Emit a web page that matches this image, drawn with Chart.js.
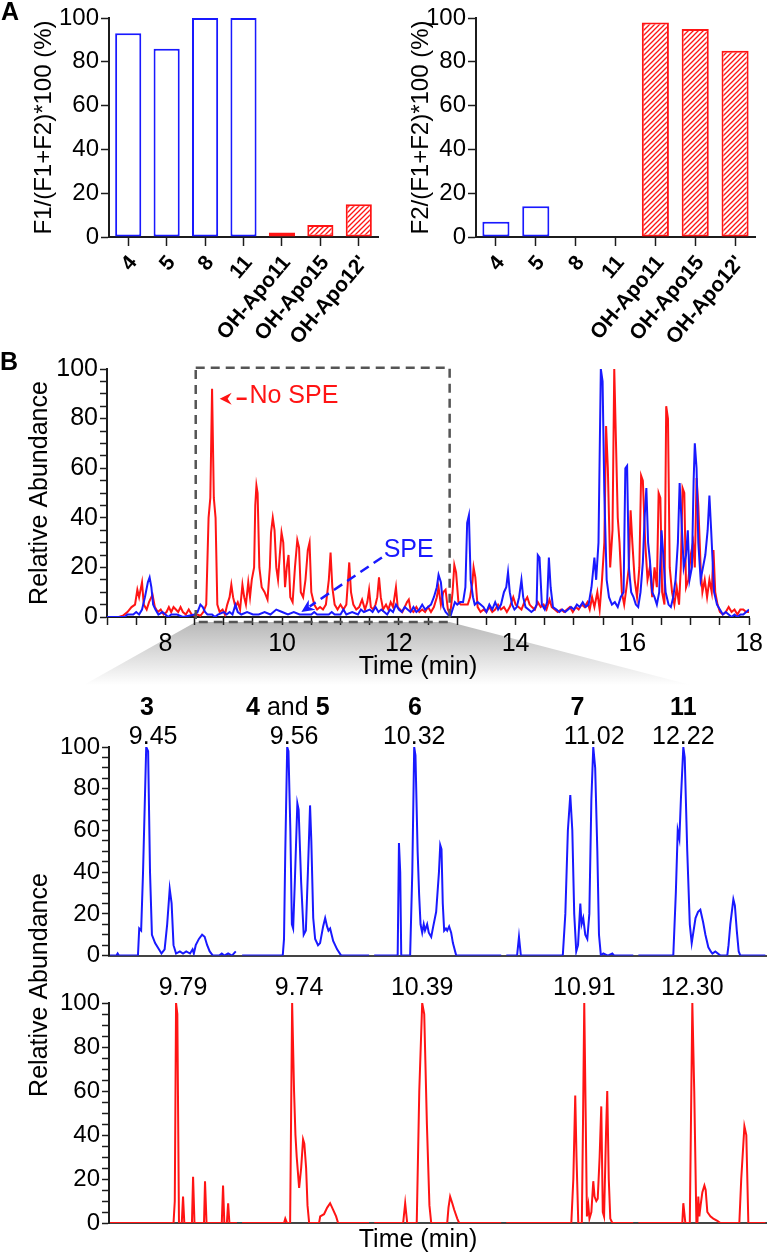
<!DOCTYPE html>
<html>
<head>
<meta charset="utf-8">
<script src="https://cdn.jsdelivr.net/npm/chart.js@4.4.1/dist/chart.umd.min.js"></script>
<style>
  html, body { margin: 0; padding: 0; background: #fff; }
  body { width: 767px; height: 1255px; position: relative; overflow: hidden; }
  canvas { position: absolute; }
</style>
</head>
<body>
<canvas id="shareF1" width="384" height="348" style="left:0;top:0"></canvas>
<canvas id="shareF2" width="383" height="348" style="left:384px;top:0"></canvas>
<canvas id="overview" width="767" height="350" style="left:0;top:340px"></canvas>
<canvas id="speZoom" width="767" height="282" style="left:0;top:690px"></canvas>
<canvas id="noSpeZoom" width="767" height="395" style="left:0;top:860px"></canvas>
<script>
// ---- panel A: fraction distribution ----
const compounds = ['4', '5', '8', '11', 'OH-Apo11', 'OH-Apo15', "OH-Apo12'"];
const f1Share = [93, 86, 100, 100, 2, 5.5, 15];
const f2Share = [7, 14, 0, 0, 98, 95, 85];

// ---- panel B: full chromatogram, [time (min), relative abundance] ----
const speTrace = [
  [7.0,0],[7.3,0],[7.35,1],[7.45,1],[7.5,2],[7.55,1],[7.6,3],[7.65,8],[7.7,14],[7.73,16],[7.76,12],[7.79,5],
  [7.83,3],[7.88,1],[7.95,2],[8.0,1],[8.05,0],[8.1,1],[8.2,1],[8.3,0],[8.4,0.5],[8.5,1],[8.55,2],[8.6,5],
  [8.64,4],[8.68,2],[8.72,1],[8.8,1],[8.85,0],[8.9,1],[9.0,2],[9.05,1],[9.1,2],[9.15,1],[9.2,5],[9.24,2],
  [9.3,1],[9.4,2],[9.5,1],[9.6,1],[9.7,2],[9.8,1],[9.9,3],[10.0,2],[10.1,1],[10.2,2],[10.3,1],[10.4,1],
  [10.5,1],[10.55,2],[10.6,1],[10.8,1],[10.85,2],[10.9,1],[11.0,1],[11.05,3],[11.1,1],[11.2,2],[11.3,1],
  [11.35,3],[11.4,2],[11.5,3],[11.55,2],[11.6,4],[11.65,2],[11.7,3],[11.75,2],[11.8,1],[11.85,3],[11.9,2],
  [11.95,5],[12.0,3],[12.05,2],[12.1,4],[12.15,3],[12.2,2],[12.25,4],[12.3,2],[12.35,3],[12.4,5],[12.45,3],
  [12.5,4],[12.55,5],[12.6,8],[12.65,12],[12.68,17],[12.72,14],[12.76,4],[12.8,2],[12.84,1],[12.88,0],
  [12.92,3],[12.96,6],[13.0,5],[13.05,6],[13.1,6],[13.14,12],[13.17,38],[13.2,41],[13.23,15],[13.27,8],
  [13.3,5],[13.35,6],[13.4,5],[13.45,4],[13.5,2],[13.55,5],[13.6,3],[13.65,6],[13.7,3],[13.75,5],[13.8,10],
  [13.84,12],[13.87,18],[13.9,10],[13.94,5],[13.98,3],[14.02,4],[14.06,8],[14.1,15],[14.13,8],[14.17,4],
  [14.22,3],[14.27,2],[14.32,3],[14.36,5],[14.38,25],[14.41,24],[14.45,5],[14.5,3],[14.54,6],[14.57,24],
  [14.6,12],[14.64,4],[14.7,3],[14.75,2],[14.8,3],[14.85,2],[14.9,3],[14.95,4],[15.0,3],[15.05,5],[15.1,4],
  [15.15,6],[15.2,4],[15.25,5],[15.3,12],[15.35,24],[15.38,15],[15.42,30],[15.46,100],[15.49,95],[15.52,50],
  [15.56,15],[15.6,8],[15.65,5],[15.7,6],[15.75,4],[15.8,8],[15.85,10],[15.88,60],[15.91,61],[15.94,20],
  [15.98,10],[16.02,8],[16.06,5],[16.1,4],[16.14,10],[16.18,22],[16.21,40],[16.24,52],[16.27,30],[16.3,23],
  [16.34,10],[16.38,8],[16.42,5],[16.46,10],[16.5,35],[16.53,25],[16.57,10],[16.62,5],[16.66,4],[16.7,8],
  [16.74,15],[16.78,30],[16.81,54],[16.84,40],[16.88,20],[16.92,25],[16.95,35],[16.98,15],[17.02,20],
  [17.05,55],[17.07,70],[17.1,60],[17.13,30],[17.17,15],[17.21,20],[17.25,25],[17.29,35],[17.32,49],
  [17.35,35],[17.4,10],[17.45,5],[17.5,3],[17.55,1],[17.6,2],[17.65,1],[17.7,0],[17.75,1],[17.8,0],
  [17.85,1],[17.9,1],[17.95,2],[18.0,3]
];
const noSpeTrace = [
  [7.0,0],[7.2,0],[7.27,0.5],[7.35,2],[7.42,4],[7.48,5],[7.52,11],[7.55,8],[7.6,14],[7.63,5],[7.68,3],
  [7.72,6],[7.78,9],[7.82,4],[7.87,2],[7.92,3],[7.97,1],[8.02,2],[8.06,4],[8.1,2],[8.14,4],[8.18,3],[8.22,2],
  [8.26,4],[8.3,2],[8.35,1],[8.4,3],[8.45,1],[8.5,0.5],[8.55,1],[8.6,0.5],[8.65,2],[8.7,5],[8.74,40],
  [8.77,48],[8.8,92],[8.83,48],[8.86,40],[8.89,5],[8.93,2],[8.98,3],[9.02,1],[9.06,5],[9.1,8],[9.13,13],
  [9.16,8],[9.2,4],[9.24,6],[9.28,3],[9.32,13],[9.35,8],[9.38,5],[9.42,14],[9.45,8],[9.48,15],[9.52,20],
  [9.54,45],[9.56,53],[9.58,50],[9.61,20],[9.65,12],[9.7,10],[9.75,7],[9.79,20],[9.81,34],[9.84,40],
  [9.87,35],[9.9,20],[9.93,15],[9.96,25],[9.99,34],[10.02,30],[10.05,12],[10.08,20],[10.11,25],[10.14,8],
  [10.18,6],[10.22,20],[10.26,31],[10.29,28],[10.32,10],[10.36,8],[10.4,15],[10.44,27],[10.47,30],[10.5,10],
  [10.55,5],[10.6,3],[10.65,4],[10.7,3],[10.75,5],[10.8,15],[10.83,26],[10.86,12],[10.9,5],[10.95,3],
  [11.0,5],[11.05,3],[11.1,5],[11.15,22],[11.18,10],[11.22,5],[11.27,3],[11.32,4],[11.37,7],[11.42,3],
  [11.46,6],[11.49,11],[11.52,4],[11.56,3],[11.6,5],[11.63,8],[11.66,16],[11.69,8],[11.73,3],[11.78,5],
  [11.82,3],[11.86,6],[11.9,4],[11.95,12],[11.98,4],[12.02,3],[12.06,2],[12.1,4],[12.14,6],[12.17,7],
  [12.2,3],[12.25,2],[12.3,4],[12.35,2],[12.4,3],[12.45,2],[12.5,4],[12.55,2],[12.6,4],[12.65,8],[12.68,12],
  [12.72,5],[12.76,10],[12.8,11],[12.84,3],[12.88,1],[12.92,10],[12.95,21],[12.98,18],[13.02,6],[13.06,5],
  [13.1,5],[13.14,5],[13.18,5],[13.22,8],[13.26,14],[13.28,20],[13.31,16],[13.35,4],[13.4,2],[13.45,3],
  [13.5,2],[13.55,4],[13.6,2],[13.65,3],[13.7,5],[13.75,3],[13.8,4],[13.85,2],[13.9,4],[13.96,8],[14.0,5],
  [14.05,4],[14.1,3],[14.15,6],[14.2,8],[14.24,5],[14.28,4],[14.33,3],[14.38,6],[14.43,4],[14.48,5],
  [14.53,3],[14.58,7],[14.62,4],[14.67,3],[14.72,2],[14.78,3],[14.83,2],[14.88,3],[14.93,4],[14.98,2],
  [15.03,4],[15.08,3],[15.13,5],[15.18,4],[15.23,6],[15.27,3],[15.31,8],[15.35,4],[15.4,10],[15.44,3],
  [15.48,15],[15.52,30],[15.55,77],[15.58,60],[15.62,20],[15.66,35],[15.69,100],[15.72,70],[15.75,40],
  [15.78,30],[15.82,10],[15.86,5],[15.9,12],[15.94,20],[15.97,43],[16.0,30],[16.04,15],[16.08,8],[16.12,20],
  [16.15,57],[16.18,55],[16.22,30],[16.26,15],[16.3,20],[16.34,8],[16.38,20],[16.42,12],[16.45,50],
  [16.48,48],[16.51,10],[16.55,5],[16.58,85],[16.61,80],[16.64,20],[16.68,10],[16.72,5],[16.76,12],[16.8,5],
  [16.83,20],[16.86,52],[16.89,50],[16.92,12],[16.96,15],[17.0,25],[17.04,30],[17.07,20],[17.1,56],
  [17.13,45],[17.17,20],[17.2,10],[17.24,15],[17.28,8],[17.32,15],[17.36,10],[17.39,27],[17.42,10],
  [17.46,5],[17.5,2],[17.55,1],[17.6,2],[17.65,4],[17.7,2],[17.75,3],[17.8,1],[17.85,3],[17.9,3],[17.95,2],
  [18.0,2]
];

// ---- panel B: extracted ion windows, [position in window (0-100), relative abundance] ----
const speWindows = [
  [[0,0],[5,0],[6,1],[7,0],[22,0],[23,13],[24.5,12],[26,40],[28.5,100],[30,98],[31.5,40],[33,10],[35.5,6],
   [38.5,3],[40.5,1],[43,3],[45,15],[47,32],[48.5,25],[50,5],[52,1],[55,2],[57.5,1],[60,2],[63,1],[65,3],
   [66,1],[67.5,5],[70,8],[72.5,10],[74.5,9],[76.5,5],[78.5,2],[81,0],[86,0],[88,1],[90,0],[93,1],[96,0],[99,2]],
  [[0,0],[32,0],[33,8],[34,50],[35.5,100],[36.5,98],[38,60],[39.2,15],[40.2,13],[41.5,35],[43.5,73],
   [44.5,70],[46.5,35],[48.5,10],[50.2,12],[51.8,40],[53.5,72],[54.5,55],[56,18],[57.5,8],[59.8,5],
   [61.4,6],[63.8,14],[65.4,18],[66.9,14],[68,12],[69.3,13],[71.7,7],[74.8,3],[78,0],[100,0]],
  [[0,0],[18.5,0],[19.5,54],[20.5,40],[21.3,0],[28.3,0],[30,40],[31.5,100],[32.5,96],[34.2,50],[35.4,29],
   [36.5,15],[37.8,11],[39,15],[40,12],[41.7,15],[43,11],[44.9,9],[46.5,14],[48.8,21],[51,40],[52,53],
   [53,51],[54,25],[55.1,12],[56.5,13],[57.5,12],[59,14],[60.6,11],[62,6],[64.6,0],[100,0]],
  [[0,0],[8.5,0],[10,9],[11.5,0],[44.5,0],[46.5,20],[48.5,60],[50.4,77],[52,60],[53.5,20],[55.1,2],
   [56.5,5],[58.3,25],[59.3,15],[60.6,18],[62.2,10],[63.8,8],[65.4,20],[67,75],[68.5,100],[70,90],
   [71.7,50],[73,10],[74.5,0],[76.4,1],[80,0],[83.5,1],[85,0],[100,0]],
  [[0,0],[27.5,0],[29.5,30],[31,60],[32.3,56],[33.5,75],[35.4,100],[36.5,95],[38.5,50],[40.5,15],[42,6],
   [43.5,12],[45,18],[47,21],[48.8,22],[51,16],[52.8,10],[55.1,4],[57,2],[58.3,1],[60.6,2],[64.6,0],
   [70,0],[71,5],[72.4,15],[74.8,27],[76,24],[77.5,12],[79,2],[80.3,0],[100,0]]
];
const noSpeWindows = [
  [[0,0],[50,0],[51,10],[52,100],[53,95],[54.3,0],[56.5,0],[57.5,12],[58.5,0],[64.5,0],[65.4,21],[66.5,0],
   [74,0],[74.8,19],[76,0],[88,0],[89,17],[90,0],[92,0],[93,9],[94,0],[100,0]],
  [[0,0],[33,0],[34,2],[35.4,0],[37.8,0],[39.4,100],[40.9,60],[42,40],[43,30],[44.9,16],[46.5,25],[48,38],
   [49,36],[50.4,25],[51.5,8],[52.8,0],[60.6,0],[61.5,3],[64.5,4],[67,7],[69.3,9],[71.7,6],[74,3],[75.6,0],[100,0]],
  [[0,0],[22.8,0],[24.4,9],[26,0],[33.5,0],[35.5,60],[37.8,100],[39.4,95],[41.5,45],[43.5,8],[44.9,0],
   [57.5,0],[58.5,7],[59.8,12],[61.5,9],[63,6],[65.4,2],[66.9,0],[100,0]],
  [[0,0],[51.2,0],[52.8,20],[54.3,58],[55.3,30],[56.7,0],[59.5,0],[60.5,50],[61.4,100],[62.5,50],[63.5,3],
   [64.6,8],[65.5,2],[67,5],[68.5,19],[69.5,12],[70.9,10],[72,11],[73.5,30],[74.8,53],[76,5],[77,3],
   [78.5,40],[79.5,60],[80.7,20],[81.9,2],[83.5,0],[100,0]],
  [[0,0],[34.6,0],[35.4,9],[37,0],[40.5,0],[42.5,100],[44,60],[45.7,0],[46.5,0],[47.2,12],[48,3],[49,8],
   [50.4,14],[52,17],[53,15],[54.3,5],[56.7,3],[59,2],[62.2,1],[64.6,0],[79.5,0],[81,20],[83.5,44],[85,40],
   [86.6,0],[100,0]]
];
const speRt = ['9.45', '9.56', '10.32', '11.02', '12.22'];
const noSpeRt = ['9.79', '9.74', '10.39', '10.91', '12.30'];
const windowCompounds = [['3'], ['4', ' and ', '5'], ['6'], ['7'], ['11']];
const compoundAt = [29, 36, 32, 56, 35.4];

const FONT = '"Liberation Sans", Arial, sans-serif';
const BLUE = 'rgb(25,25,255)';
const RED = 'rgb(255,20,20)';
const INK = '#1c1c1c';
const WINDOW_PITCH = 104;

Chart.defaults.font.family = FONT;
Chart.defaults.color = '#000';
Chart.defaults.animation = false;
Chart.defaults.plugins.legend.display = false;
Chart.defaults.plugins.tooltip.enabled = false;

function text(ctx, s, x, y, size, opts = {}) {
  ctx.save();
  ctx.font = (opts.bold ? 'bold ' : '') + size + 'px ' + FONT;
  ctx.fillStyle = opts.color || '#000';
  ctx.textAlign = opts.align || 'center';
  ctx.textBaseline = 'middle';
  ctx.translate(x, y);
  if (opts.rotate) ctx.rotate(opts.rotate);
  ctx.fillText(s, 0, 0);
  ctx.restore();
}

function hatch(color) {
  const c = document.createElement('canvas');
  c.width = 5; c.height = 5;
  const g = c.getContext('2d');
  g.fillStyle = '#fff';
  g.fillRect(0, 0, 5, 5);
  g.strokeStyle = color;
  g.lineWidth = 1.3;
  g.beginPath();
  g.moveTo(0, 5); g.lineTo(5, 0);
  g.moveTo(-1, 1); g.lineTo(1, -1);
  g.moveTo(4, 6); g.lineTo(6, 4);
  g.stroke();
  return g.createPattern(c, 'repeat');
}

function yAxis(width, step, every, size, tickLength) {
  return {
    min: 0, max: 100,
    ticks: {
      stepSize: step, autoSkip: false, padding: 2, font: { size },
      callback: v => (v % every === 0 ? v : '')
    },
    grid: { drawOnChartArea: false, tickLength, tickWidth: 1.5, tickColor: INK },
    border: { color: INK, width: 2 },
    afterFit: s => { s.width = width; }
  };
}

// ---- panel A ----
const isApo = compounds.map(c => c.startsWith('OH'));
const redHatch = hatch(RED);

function shareChart(id, values, title, yWidth, padRight, titleX, letter) {
  new Chart(document.getElementById(id), {
    type: 'bar',
    data: {
      labels: compounds,
      datasets: [{
        data: values,
        backgroundColor: isApo.map(a => (a ? redHatch : '#fff')),
        borderColor: isApo.map(a => (a ? RED : BLUE)),
        borderWidth: 2,
        borderSkipped: false,
        categoryPercentage: 0.8,
        barPercentage: 0.85
      }]
    },
    options: {
      responsive: false,
      layout: { padding: { top: 18, right: padRight } },
      scales: {
        x: {
          grid: { offset: false, drawOnChartArea: false, tickLength: 9, tickWidth: 1.5, tickColor: INK },
          border: { color: INK, width: 2 },
          ticks: { autoSkip: false, minRotation: 50, maxRotation: 50, padding: 5, labelOffset: 5,
            font: { size: 21, weight: 'bold' } },
          afterFit: s => { s.height = 111; }
        },
        y: yAxis(yWidth, 20, 20, 24, 8)
      }
    },
    plugins: [{
      id: 'shareText',
      afterDraw(chart) {
        const { ctx, chartArea: a } = chart;
        text(ctx, title, titleX, (a.top + a.bottom) / 2, 24, { rotate: -Math.PI / 2 });
        if (letter) text(ctx, letter, 1, 13, 25, { bold: true, align: 'left' });
      }
    }]
  });
}
shareChart('shareF1', f1Share, 'F1/(F1+F2)*100 (%)', 109, 6, 44, 'A');
shareChart('shareF2', f2Share, 'F2/(F1+F2)*100 (%)', 92, 12, 37.5, null);

// ---- panel B overview ----
const zoomWindow = { from: 8.52, to: 12.87 };
const callouts = {
  noSpe: { tip: [8.93, 88], label: [9.44, 89] },
  spe: { tip: [10.33, 2], tail: [11.71, 24], label: [11.74, 27] }
};

new Chart(document.getElementById('overview'), {
  type: 'line',
  data: {
    datasets: [
      { data: speTrace, borderColor: BLUE, borderWidth: 2, pointRadius: 0, tension: 0 },
      { data: noSpeTrace, borderColor: RED, borderWidth: 2, pointRadius: 0, tension: 0 }
    ]
  },
  options: {
    responsive: false,
    layout: { padding: { top: 29, right: 15 } },
    scales: {
      x: {
        type: 'linear', min: 7, max: 18,
        ticks: { stepSize: 0.5, autoSkip: false, maxRotation: 0, padding: 4, font: { size: 25 },
          callback: v => (v % 2 === 0 ? v : '') },
        grid: { drawOnChartArea: false, tickLength: 8, tickWidth: 1.5, tickColor: INK },
        border: { color: INK, width: 2 },
        afterFit: s => { s.height = 73; }
      },
      y: yAxis(107, 5, 20, 25, 7)
    }
  },
  plugins: [{
    id: 'overviewDecor',
    beforeDraw(chart) {
      const { ctx, scales: { x, y } } = chart;
      const left = x.getPixelForValue(zoomWindow.from);
      const right = x.getPixelForValue(zoomWindow.to);
      const top = y.getPixelForValue(-2);
      const bottom = 345;
      const grad = ctx.createLinearGradient(0, top, 0, bottom);
      grad.addColorStop(0, '#b8b8b8');
      grad.addColorStop(1, '#ffffff');
      ctx.save();
      ctx.fillStyle = grad;
      ctx.beginPath();
      ctx.moveTo(left, top);
      ctx.lineTo(right, top);
      ctx.lineTo(x.getPixelForValue(17.0), bottom);
      ctx.lineTo(x.getPixelForValue(6.6), bottom);
      ctx.closePath();
      ctx.fill();
      ctx.restore();
    },
    afterDatasetsDraw(chart) {
      const { ctx, scales: { x, y } } = chart;
      const px = p => [x.getPixelForValue(p[0]), y.getPixelForValue(p[1])];
      ctx.save();
      ctx.strokeStyle = '#555';
      ctx.lineWidth = 2.5;
      ctx.setLineDash([9, 6]);
      const l = x.getPixelForValue(zoomWindow.from), r = x.getPixelForValue(zoomWindow.to);
      const t = y.getPixelForValue(100.5), b = y.getPixelForValue(-2);
      ctx.strokeRect(l, t, r - l, b - t);

      // No SPE callout
      const [nx, ny] = px(callouts.noSpe.tip);
      ctx.setLineDash([]);
      ctx.fillStyle = RED;
      ctx.beginPath();
      ctx.moveTo(nx, ny); ctx.lineTo(nx + 12, ny - 6); ctx.lineTo(nx + 8, ny); ctx.lineTo(nx + 12, ny + 6);
      ctx.closePath(); ctx.fill();
      ctx.strokeStyle = RED; ctx.lineWidth = 2.5;
      ctx.beginPath(); ctx.moveTo(nx + 17, ny); ctx.lineTo(nx + 27, ny); ctx.stroke();

      // SPE callout
      const [sx, sy] = px(callouts.spe.tip);
      const [tx, ty] = px(callouts.spe.tail);
      const ang = Math.atan2(ty - sy, tx - sx);
      ctx.strokeStyle = BLUE; ctx.fillStyle = BLUE;
      ctx.setLineDash([10, 6]);
      ctx.beginPath(); ctx.moveTo(tx, ty); ctx.lineTo(sx + 10 * Math.cos(ang), sy + 10 * Math.sin(ang)); ctx.stroke();
      ctx.setLineDash([]);
      ctx.translate(sx, sy); ctx.rotate(ang);
      ctx.beginPath(); ctx.moveTo(0, 0); ctx.lineTo(13, -6); ctx.lineTo(9, 0); ctx.lineTo(13, 6); ctx.closePath(); ctx.fill();
      ctx.restore();

      const [lx, ly] = px(callouts.noSpe.label);
      text(ctx, 'No SPE', lx, ly, 25, { align: 'left', color: RED });
      const [kx, ky] = px(callouts.spe.label);
      text(ctx, 'SPE', kx, ky, 25, { align: 'left', color: BLUE });
    },
    afterDraw(chart) {
      const { ctx, chartArea: a } = chart;
      text(ctx, 'B', 0, 23, 25, { bold: true, align: 'left' });
      text(ctx, 'Relative Abundance', 40, (a.top + a.bottom) / 2, 25, { rotate: -Math.PI / 2 });
      text(ctx, 'Time (min)', 418, 327, 25);
    }
  }]
});

// ---- panel B zoomed windows ----
function apexOf(win) {
  return win.reduce((m, p) => (p[1] > m[1] ? p : m), win[0])[0];
}

function windowChart(id, windows, rtLabels, color, cfg) {
  new Chart(document.getElementById(id), {
    type: 'line',
    data: {
      datasets: windows.map((win, k) => ({
        data: win.map(([u, a]) => [k * WINDOW_PITCH + u, a]),
        borderColor: color, borderWidth: 2, pointRadius: 0, tension: 0
      }))
    },
    options: {
      responsive: false,
      layout: { padding: { top: cfg.top, right: 1 } },
      scales: {
        x: {
          type: 'linear', min: -0.8, max: 516.5,
          ticks: { display: false },
          grid: { display: false },
          border: { color: '#444', width: 2 },
          afterFit: s => { s.height = cfg.xHeight; }
        },
        y: yAxis(109, 5, 20, 24, 7)
      }
    },
    plugins: [{
      id: 'windowText',
      afterDraw(chart) {
        const { ctx, scales: { x } } = chart;
        ctx.save();
        ctx.font = '25px ' + FONT;
        windows.forEach((win, k) => {
          const s = rtLabels[k];
          const apex = x.getPixelForValue(k * WINDOW_PITCH + apexOf(win));
          const pre = ctx.measureText(s.slice(0, s.indexOf('.'))).width + ctx.measureText('.').width / 2;
          text(ctx, s, apex - pre, cfg.rtY, 25, { align: 'left' });
          if (cfg.compounds) {
            const parts = windowCompounds[k];
            const fonts = parts.map((p, i) => (i % 2 === 0 ? 'bold ' : '') + '25px ' + FONT);
            const widths = parts.map((p, i) => { ctx.font = fonts[i]; return ctx.measureText(p).width; });
            let cx = x.getPixelForValue(k * WINDOW_PITCH + compoundAt[k]) - widths.reduce((s2, w) => s2 + w, 0) / 2;
            parts.forEach((p, i) => {
              text(ctx, p, cx, cfg.idY, 25, { align: 'left', bold: i % 2 === 0 });
              cx += widths[i];
            });
            ctx.font = '25px ' + FONT;
          }
        });
        ctx.restore();
        if (cfg.yTitle) text(ctx, 'Relative Abundance', 40, cfg.yTitle, 25, { rotate: -Math.PI / 2 });
        if (cfg.xTitle) text(ctx, 'Time (min)', 418, cfg.xTitle, 25);
      }
    }]
  });
}

windowChart('speZoom', speWindows, speRt, BLUE, { top: 57, xHeight: 5, rtY: 47, idY: 18, compounds: true });
windowChart('noSpeZoom', noSpeWindows, noSpeRt, RED, { top: 143, xHeight: 32, rtY: 128, yTitle: 125, xTitle: 380 });
</script>
</body>
</html>
